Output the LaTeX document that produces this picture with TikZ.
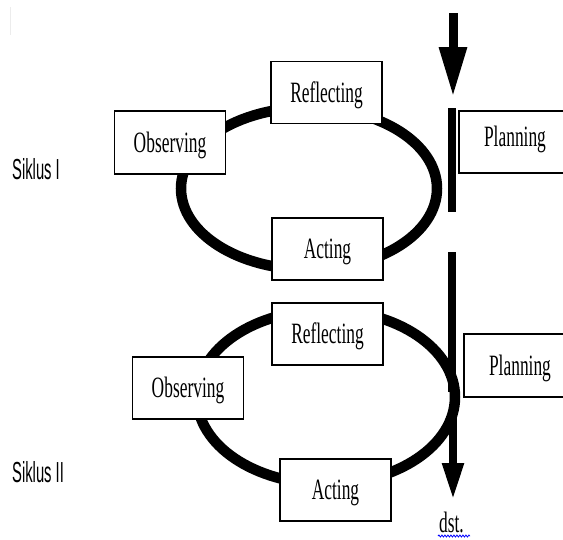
\documentclass[tikz,border=0pt]{standalone}
\usepackage{fontspec}
\setmainfont{Liberation Serif}
\newfontfamily\boxfont[FakeStretch=0.59]{Liberation Serif}
\newfontfamily\sikfont[FakeStretch=0.51]{Liberation Sans}
\usetikzlibrary{arrows.meta,decorations.pathmorphing}
\begin{document}
\begin{tikzpicture}[x=1pt,y=-1pt,
  box/.style={draw,line width=1.2pt,fill=white,minimum width=111pt,minimum height=62pt,
    inner sep=0pt,font=\boxfont\fontsize{29.5}{29.5}\selectfont,text height=19.5pt,text depth=0pt},
  loopline/.style={line width=10.5pt},
  barline/.style={line width=8.5pt},
  bigarrow/.style={line width=9pt,-{Triangle[length=50pt,width=26pt]}},
  smallarrow/.style={line width=8pt,-{Triangle[length=37pt,width=20pt]}},
  siklus/.style={font=\sikfont\fontsize{29}{29}\selectfont,anchor=base west,inner sep=0pt},
  wavy/.style={blue,line width=0.8pt,decorate,decoration={snake,amplitude=1pt,segment length=3pt}}
]
\useasboundingbox (0,0) rectangle (563,539);
\clip (0,0) rectangle (563,539);

% faint artifact
\draw[gray!15,line width=1pt] (10,7) -- (10,35);

% loops
\draw[loopline] (309,188.5) ellipse [x radius=128, y radius=81];
\draw[loopline] (326,397) ellipse [x radius=129, y radius=87];

% coordinates for connectors
\coordinate (a1s) at (453,13);
\coordinate (a1t) at (453,97);
\coordinate (b1s) at (452,108);
\coordinate (b1e) at (452,212);
\coordinate (b2s) at (452,252);
\coordinate (b2e) at (452,392);
\coordinate (a2s) at (453,405);
\coordinate (a2t) at (453,500);

\draw[bigarrow] (a1s) -- (a1t);
\draw[barline] (b1s) -- (b1e);
\draw[barline] (b2s) -- (b2e);
\draw[smallarrow] (a2s) -- (a2t);

% cycle I
\node[box] (ref1) at (326.5,92.5) {Reflecting};
\node[box,minimum height=63pt] (obs1) at (170,142.5) {Observing};
\node[box] (act1) at (327.5,249) {Acting};
\node[box,minimum width=112pt,text depth=10pt] (plan1) at (515,142) {Planning};

% cycle II
\node[box] (ref2) at (327.5,334) {Reflecting};
\node[box] (obs2) at (188,388) {Observing};
\node[box] (act2) at (335.5,490) {Acting};
\node[box,minimum width=112pt,minimum height=63pt] (plan2) at (520,365.5) {Planning};

% labels
\node[siklus] (s1) at (12,179) {Siklus I};
\node[siklus] (s2) at (12,482) {Siklus II};
\node[font=\boxfont\fontsize{29.5}{29.5}\selectfont,anchor=base,inner sep=0pt] (dst) at (451.5,532) {dst.};
\coordinate (w1) at (438,536);
\coordinate (w2) at (470,536);
\draw[wavy] (w1) -- (w2);
\end{tikzpicture}
\end{document}
